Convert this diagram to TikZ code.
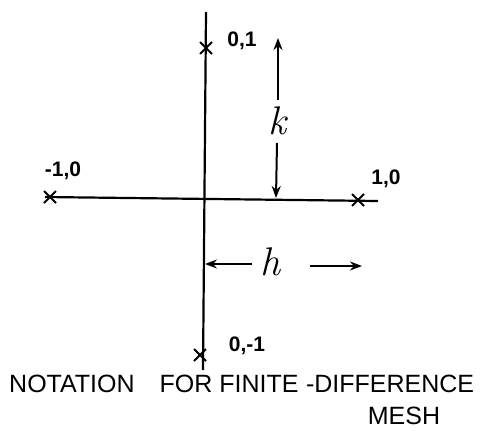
\documentclass[tikz,border=0pt]{standalone}
\usepackage{fontspec}
\setmainfont{Liberation Sans}
\newfontfamily\lmr{Latin Modern Roman}
\usetikzlibrary{arrows.meta}
\begin{document}
\begin{tikzpicture}[x=1pt,y=-1pt,
  axis/.style={line width=2.2pt},
  cross/.style={line width=1.8pt},
  dim/.style={line width=2pt,-{Stealth[length=12pt,width=9pt]}},
  lbl/.style={font=\fontsize{21}{24}\selectfont\bfseries,inner sep=0pt},
  letter/.style={font=\fontsize{40}{40}\selectfont\lmr\itshape,inner sep=1pt},
  captext/.style={font=\fontsize{25}{28}\selectfont,inner sep=0pt}]
\useasboundingbox (0,0) rectangle (482,431);
% axes
\coordinate (vt) at (206,12);
\coordinate (vb) at (203,370);
\coordinate (hl) at (45,197);
\coordinate (hr) at (378,201);
\draw[axis] (vt) -- (vb);
\draw[axis] (hl) -- (hr);
% mesh points
\coordinate (p01) at (206,48);
\coordinate (pm10) at (50,197);
\coordinate (p10) at (358,200);
\coordinate (p0m1) at (200,355);
\foreach \p in {p01,pm10,p10,p0m1}{
  \draw[cross] ([shift={(-6,-6)}]\p) -- ([shift={(6,6)}]\p);
  \draw[cross] ([shift={(-6,6)}]\p) -- ([shift={(6,-6)}]\p);
}
\node[lbl] (l01) at (242,41) {0,1};
\node[lbl] (lm10) at (63,171) {-1,0};
\node[lbl] (l10) at (386,179) {1,0};
\node[lbl] (l0m1) at (247,346) {0,-1};
% k dimension
\node[letter] (k) at (277,121) {k};
\coordinate (ktop) at (278,38);
\coordinate (kbot) at (276,198);
\draw[dim] (278,100) -- (ktop);
\draw[dim] (277,143) -- (kbot);
% h dimension
\node[letter] (h) at (270,262) {h};
\coordinate (hleft) at (205,264);
\coordinate (hright) at (362,266);
\draw[dim] (252,264) -- (hleft);
\draw[dim] (310,266) -- (hright);
% caption
\node[captext,anchor=west] (c1) at (9,384) {NOTATION\hspace{1.0em}FOR FINITE\hspace{0.3em}-DIFFERENCE};
\node[captext] (c2) at (404,416) {MESH};
\end{tikzpicture}
\end{document}
